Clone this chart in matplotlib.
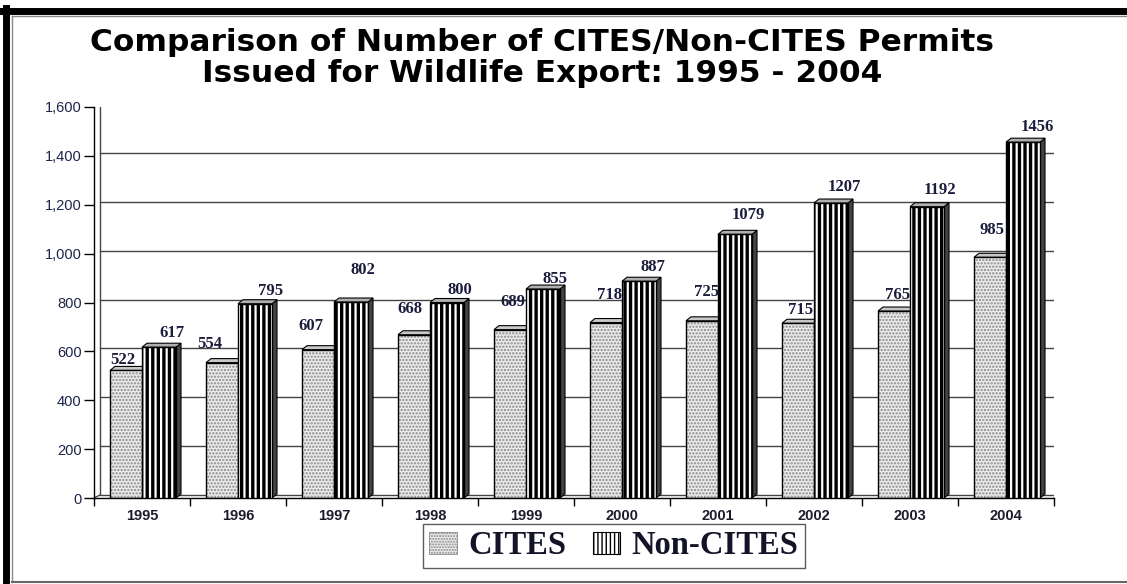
import matplotlib
matplotlib.use("Agg")
import matplotlib.pyplot as plt
from matplotlib.patches import Polygon, Rectangle
from matplotlib.lines import Line2D
from matplotlib import transforms

# ---------------- data ----------------
years = ["1995", "1996", "1997", "1998", "1999", "2000", "2001", "2002", "2003", "2004"]
cites = [522, 554, 607, 668, 689, 718, 725, 715, 765, 985]
non_cites = [617, 795, 802, 800, 855, 887, 1079, 1207, 1192, 1456]
series_names = ["CITES", "Non-CITES"]
y_ticks = [0, 200, 400, 600, 800, 1000, 1200, 1400, 1600]

# label placement (pixel offsets from the bar top centre)
cites_lbl_dx = [-3, -12, -7, -4, 3, 3, 5, 3, 4, 2]
cites_lbl_dy = [10, 19, 24, 26, 28, 28, 29, 13, 16, 27]
non_lbl_dx = [13, 16, 12, 13, 12, 14, 13, 13, 13, 14]
non_lbl_dy = [14, 13, 32, 13, 10, 14, 19, 16, 17, 15]

W, H, DPI = 1127, 584, 100

fig = plt.figure(figsize=(W / DPI, H / DPI), dpi=DPI)
fig.patch.set_facecolor("white")

# outer frame overlay in pixel coords
frame = fig.add_axes([0, 0, 1, 1], zorder=-5)
frame.set_xlim(0, W)
frame.set_ylim(H, 0)
frame.axis("off")
frame.add_line(Line2D([6, 6], [8, H], color="black", lw=5))
frame.add_line(Line2D([3, W], [11, 11], color="black", lw=5))
frame.add_line(Line2D([12, 12], [16, 582], color="#888888", lw=1))
frame.add_line(Line2D([12, W], [16, 16], color="#888888", lw=1))
frame.add_line(Line2D([12, W], [582, 582], color="#666666", lw=1.5))

# main axes (front plane)
x_left, x_right, y_bot, y_top = 94, 1054, 498, 107
ax = fig.add_axes([x_left / W, 1 - y_bot / H, (x_right - x_left) / W, (y_bot - y_top) / H])
ax.set_xlim(-0.5, len(years) - 0.5)
ax.set_ylim(0, 1600)
ax.patch.set_alpha(0)
for s in ["top", "right"]:
    ax.spines[s].set_visible(False)
for s in ["left", "bottom"]:
    ax.spines[s].set_color("black")
    ax.spines[s].set_linewidth(1)

px_x = (x_right - x_left) / len(years)       # pixels per category
px_y = (y_bot - y_top) / 1600.0              # pixels per unit value
depth_dx, depth_dy = 6, 3                    # back wall offset (pixels)
back = transforms.offset_copy(ax.transData, fig=fig, x=depth_dx, y=depth_dy, units="dots")

# back wall and gridlines
ax.add_patch(Rectangle((-0.5, 0), len(years), 1600, transform=back, fill=False,
                       edgecolor="#444444", lw=1, zorder=0.5))
for t in y_ticks[1:-1]:
    ax.plot([-0.5, len(years) - 0.5], [t, t], color="#444444", lw=1, transform=back, zorder=0.6)
for (xx, yy) in [(-0.5, 1600), (-0.5, 0), (len(years) - 0.5, 0)]:
    ax.plot([xx, xx + depth_dx / px_x], [yy, yy + depth_dy / px_y], color="#444444", lw=1, zorder=0.6)

# bars
bdx, bdy = 5 / px_x, 4 / px_y
cw = 32 / px_x
nw = 34 / px_x


def hatched(xy, w, h, face, hatch, hcol, hlw, z):
    with plt.rc_context({"hatch.linewidth": hlw}):
        p = Rectangle(xy, w, h, facecolor=face, edgecolor=hcol, hatch=hatch, lw=0, zorder=z)
        if hasattr(p, "set_hatch_linewidth"):
            p.set_hatch_linewidth(hlw)
    ax.add_patch(p)
    return p


def box3d(x0, w, v, face, hatch, hcol, hlw, side, top, z):
    ax.add_patch(Polygon([(x0 + w, 0), (x0 + w, v), (x0 + w + bdx, v + bdy), (x0 + w + bdx, bdy)],
                         closed=True, facecolor=side, edgecolor="black", lw=0.8, zorder=z))
    ax.add_patch(Polygon([(x0, v), (x0 + w, v), (x0 + w + bdx, v + bdy), (x0 + bdx, v + bdy)],
                         closed=True, facecolor=top, edgecolor="black", lw=0.8, zorder=z))
    hatched((x0, 0), w, v, face, hatch, hcol, hlw, z)
    ax.add_patch(Rectangle((x0, 0), w, v, fill=False, edgecolor="black", lw=1, zorder=z + 0.01))


for i, (c, n) in enumerate(zip(cites, non_cites)):
    box3d(i - cw, cw, c, "#ececec", ".....", "#888888", 1.1, "#c0c0c0", "#c8c8c8", 2)
    box3d(i, nw, n, "white", "|||", "black", 2.4, "#444444", "#b0b0b0", 3)

# data labels
lbl_kw = dict(textcoords="offset pixels", ha="center", va="center",
              fontfamily="Liberation Serif", fontweight="bold", fontsize=12,
              color="#1c1c3c", zorder=6)
for i, (c, n) in enumerate(zip(cites, non_cites)):
    ax.annotate(str(c), (i - cw / 2, c), xytext=(cites_lbl_dx[i], cites_lbl_dy[i]), **lbl_kw)
    ax.annotate(str(n), (i + nw / 2, n), xytext=(non_lbl_dx[i], non_lbl_dy[i]), **lbl_kw)

# ticks
ax.set_yticks(y_ticks)
ax.set_yticklabels([f"{t:,}" for t in y_ticks], fontfamily="Liberation Sans", fontsize=10.5,
                   color="#1c2448")
ax.tick_params(axis="y", direction="out", length=7, width=1, pad=2)
ax.set_xticks(range(len(years)))
ax.set_xticklabels(years, fontfamily="Liberation Sans", fontweight="bold", fontsize=10.5,
                   color="#1c1c2c")
ax.tick_params(axis="x", which="major", length=0, pad=8)
ax.set_xticks([i - 0.5 for i in range(len(years) + 1)], minor=True)
ax.tick_params(axis="x", which="minor", direction="out", length=6, width=1)

# title
fig.text(0.481, 1 - 58 / H,
         "Comparison of Number of CITES/Non-CITES Permits\nIssued for Wildlife Export: 1995 - 2004",
         ha="center", va="center", fontfamily="DejaVu Sans", fontweight="bold",
         fontsize=22.5, linespacing=1.1, color="black")

# legend
with plt.rc_context({"hatch.linewidth": 0.8}):
    h1 = Rectangle((0, 0), 1, 1, facecolor="#ececec", edgecolor="#888888", hatch="......", lw=0.6)
with plt.rc_context({"hatch.linewidth": 1.8}):
    h2 = Rectangle((0, 0), 1, 1, facecolor="white", edgecolor="black", hatch="||||", lw=0.8)
leg = fig.legend([h1, h2], series_names, loc="center", bbox_to_anchor=(614 / W, 1 - 546 / H),
                 ncol=2, frameon=True, fancybox=False, edgecolor="#333333",
                 prop={"family": "Liberation Serif", "weight": "bold", "size": 23.5},
                 handlelength=0.85, handleheight=0.65, handletextpad=0.35, columnspacing=0.8,
                 borderpad=0.2)
leg.get_frame().set_linewidth(1)
for t in leg.get_texts():
    t.set_color("#141428")

fig.savefig("out.png", dpi=DPI)
